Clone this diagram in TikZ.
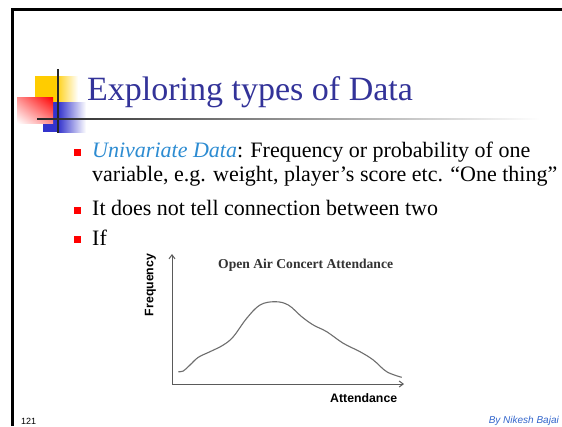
\documentclass[tikz,border=0pt]{standalone}
\usepackage{fontspec}
\setmainfont{Liberation Serif}
\newfontfamily\sansf{Liberation Sans}
\usetikzlibrary{arrows.meta,shadings}
\definecolor{titleblue}{RGB}{51,51,153}
\definecolor{uniblue}{RGB}{45,140,210}
\definecolor{footblue}{RGB}{51,102,204}
\definecolor{decoyellow}{RGB}{255,204,0}
\definecolor{decoblue}{RGB}{51,51,204}
\definecolor{axisgray}{RGB}{90,90,90}
\definecolor{curvegray}{RGB}{110,110,110}
\begin{document}
\begin{tikzpicture}[x=1pt,y=-1pt,
  bodytext/.style={anchor=base west, inner sep=0pt, font=\fontsize{22}{26}\selectfont},
  bulletsq/.style={fill=red, draw=none},
  axisline/.style={draw=axisgray, line width=1pt, -{Straight Barb[length=4pt,width=6pt]}},
  axislabel/.style={inner sep=0pt, font=\sansf\bfseries\fontsize{12.3}{14}\selectfont}
]
\useasboundingbox[fill=white] (0,0) rectangle (562,426);
% slide frame
\draw[line width=3pt] (12,426) -- (12,9.5) -- (562,9.5);
% title decoration
\fill[decoyellow] (35,76) rectangle (55,104);
\shade[left color=decoyellow, right color=white] (55,76) rectangle (78,104);
\fill[decoblue] (43,102) rectangle (58,132);
\shade[left color=decoblue, right color=white] (58,102) rectangle (86,132);
\shade[upper left=red!45!white, upper right=red, lower left=white, lower right=red!45!white] (17,97) rectangle (53,123);
\fill[black!85] (57.3,69) rectangle (58.8,133);
\shade[left color=black!85, middle color=black!45, right color=white] (37,118.3) rectangle (540,119.8);
% title
\node[anchor=base west, inner sep=0pt, text=titleblue, font=\fontsize{34}{40}\selectfont] (title) at (87,100) {Exploring types of Data};
% bullets
\fill[bulletsq] (74,149) rectangle (80.5,155.5);
\node[bodytext] (l1) at (92,157) {\textcolor{uniblue}{\itshape Univariate Data}: Frequency or probability of one};
\node[bodytext] (l2) at (92,181) {variable, e.g. weight, player’s score etc. “One thing”};
\fill[bulletsq] (74,207) rectangle (80.5,213.5);
\node[bodytext] (l3) at (92,215) {It does not tell connection between two};
\fill[bulletsq] (74,236) rectangle (80.5,242.5);
\node[bodytext] (l4) at (92,245) {If};
% graph
\coordinate (O) at (172,384);
\coordinate (ytop) at (172,254);
\coordinate (xend) at (404,384);
\draw[axisline] (O) -- (ytop);
\draw[axisline] (O) -- (xend);
\draw[curvegray, line width=1.1pt] plot[smooth, tension=0.6] coordinates {
 (178.3,371.7) (183.3,371) (190,365) (198.3,357.3) (210,351.7) (223.3,345)
 (233.3,336.7) (246.7,318.3) (260,305) (275,301.7) (288.3,305) (301.7,316.7)
 (313.3,325) (326.7,331.7) (343.3,343.3) (360,351.7) (373.3,360) (386.7,371.7) (401.7,377.3)};
\node[axislabel, rotate=90] (freq) at (150.5,285) {Frequency};
\node[axislabel, anchor=base west] (att) at (330,402) {Attendance};
\node[anchor=base west, inner sep=0pt, text=black!80, font=\bfseries\fontsize{13.6}{16}\selectfont] (charttitle) at (218,268) {Open Air Concert Attendance};
% footer
\node[anchor=base west, inner sep=0pt, font=\sansf\fontsize{9}{10}\selectfont] (pg) at (21,424) {121};
\node[anchor=base east, inner sep=0pt, text=footblue, font=\sansf\itshape\fontsize{10}{12}\selectfont] (by) at (559,423) {By Nikesh Bajai};
\end{tikzpicture}
\end{document}
